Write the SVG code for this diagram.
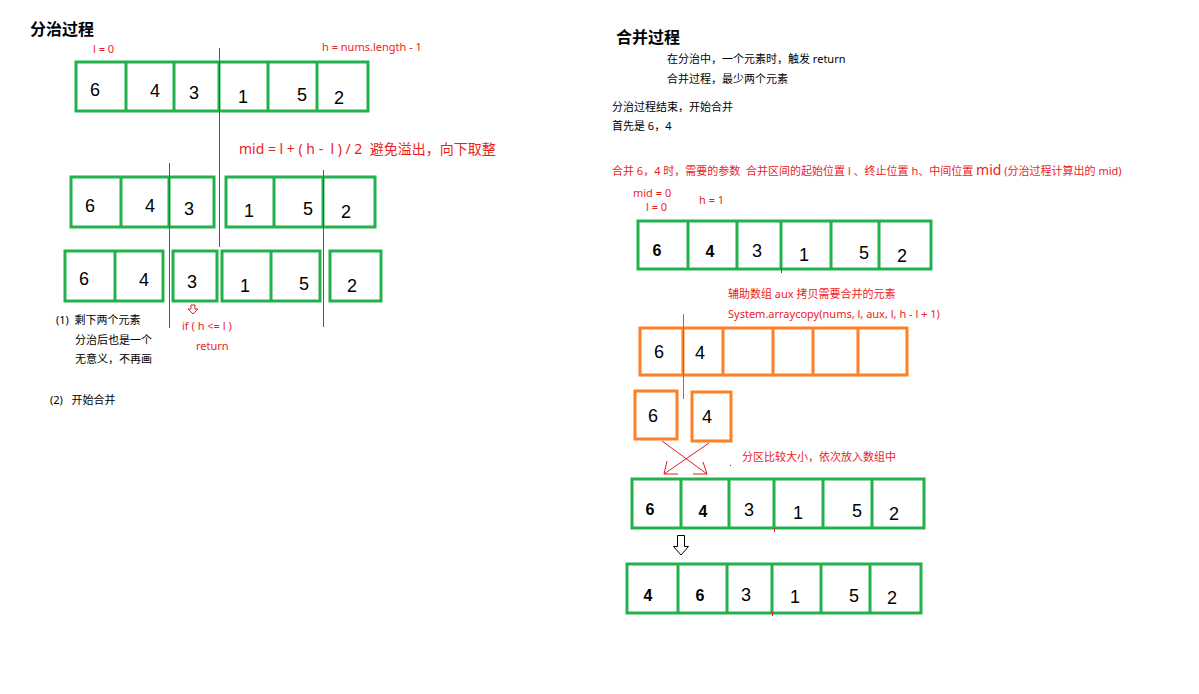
<svg xmlns="http://www.w3.org/2000/svg" width="1199" height="694" viewBox="0 0 1199 694">
<style>
text{font-family:"Noto Sans","Noto Sans CJK SC",sans-serif;white-space:pre;}
.t{font-size:11px;fill:#000;}
.r{font-size:11px;fill:#ed1c24;}
.r14{font-size:14px;fill:#ed1c24;}
.title{font-size:16px;font-weight:bold;fill:#000;font-family:"Noto Sans CJK SC",sans-serif;}
.g{fill:#fff;stroke:#22b14c;stroke-width:3;}
.o{fill:#fff;stroke:#ff7f27;stroke-width:3;}
.gl{stroke:#22b14c;stroke-width:3;fill:none;}
.ol{stroke:#ff7f27;stroke-width:3;fill:none;}
.n{font-size:18px;fill:#000;text-anchor:middle;font-family:"Liberation Sans",sans-serif;}
.nb{font-size:16px;font-weight:bold;fill:#000;text-anchor:middle;font-family:"Liberation Sans",sans-serif;}
.rl{stroke:#e01b24;stroke-width:1;fill:none;}
</style>
<rect width="1199" height="694" fill="#fff"/>

<!-- LEFT: 分治过程 -->
<g id="title-left"><text class="title" x="30" y="35">分治过程</text></g>
<g id="label-l0"><text class="r" x="93" y="53">l = 0</text></g>
<g id="label-h"><text class="r" x="322" y="51">h = nums.length - 1</text></g>

<g id="row1">
<rect class="g" x="76" y="62" width="292" height="49"/>
<path class="gl" d="M126 62V111M174 62V111M219 62V111M268 62V111M317 62V111"/>
<text class="n" x="95" y="96">6</text>
<text class="n" x="155" y="97">4</text>
<text class="n" x="194" y="99">3</text>
<text class="n" x="243" y="103">1</text>
<text class="n" x="302" y="101">5</text>
<text class="n" x="339" y="104">2</text>
</g>

<g id="label-mid"><text class="r14" x="239" y="154">mid = l + ( h -  l ) / 2  避免溢出，向下取整</text></g>

<g id="row2-left">
<rect class="g" x="71" y="177" width="143" height="50"/>
<path class="gl" d="M121 177V227M169 177V227"/>
<text class="n" x="90" y="212">6</text>
<text class="n" x="150" y="212">4</text>
<text class="n" x="189" y="215">3</text>
</g>
<g id="row2-right">
<rect class="g" x="226" y="177" width="149" height="50"/>
<path class="gl" d="M274 177V227M323 177V227"/>
<text class="n" x="249" y="217">1</text>
<text class="n" x="308" y="215">5</text>
<text class="n" x="346" y="218">2</text>
</g>

<g id="row3-a">
<rect class="g" x="65" y="251" width="98" height="50"/>
<path class="gl" d="M115 251V301"/>
<text class="n" x="84" y="285">6</text>
<text class="n" x="144" y="286">4</text>
</g>
<g id="row3-b">
<rect class="g" x="173" y="251" width="44" height="50"/>
<text class="n" x="192" y="288">3</text>
</g>
<g id="row3-c">
<rect class="g" x="222" y="251" width="98" height="50"/>
<path class="gl" d="M271 251V301"/>
<text class="n" x="245" y="292">1</text>
<text class="n" x="304" y="290">5</text>
</g>
<g id="row3-d">
<rect class="g" x="330" y="251" width="51" height="50"/>
<text class="n" x="352" y="292">2</text>
</g>

<g id="notes-left">
<text class="t" x="56" y="324">(1)  剩下两个元素</text>
<text class="t" x="75" y="344">分治后也是一个</text>
<text class="t" x="75" y="363">无意义，不再画</text>
<text class="t" x="50" y="404">(2)   开始合并</text>
<text class="r" x="182" y="330">if ( h &lt;= l )</text>
<text class="r" x="196" y="350">return</text>
</g>

<!-- RIGHT: 合并过程 -->
<g id="title-right"><text class="title" x="616" y="43">合并过程</text></g>
<g id="notes-right">
<text class="t" x="667" y="63">在分治中，一个元素时，触发 return</text>
<text class="t" x="667" y="83">合并过程，最少两个元素</text>
<text class="t" x="612" y="111">分治过程结束，开始合并</text>
<text class="t" x="612" y="130">首先是 6，4</text>
<text class="r" x="612" y="175">合并 6，4 时，需要的参数  合并区间的起始位置 l 、终止位置 h、中间位置 <tspan font-size="14">mid</tspan> (分治过程计算出的 mid)</text>
<text class="r" x="633" y="197">mid = 0</text>
<text class="r" x="646" y="211">l = 0</text>
<text class="r" x="699" y="204">h = 1</text>
<text class="r" x="728" y="298">辅助数组 aux 拷贝需要合并的元素</text>
<text class="r" x="728" y="318">System.arraycopy(nums, l, aux, l, h - l + 1)</text>
<text class="r" x="742" y="461">分区比较大小，依次放入数组中</text>
</g>

<g id="merge-row1">
<rect class="g" x="638" y="221" width="293" height="48"/>
<path class="gl" d="M688 221V269M737 221V269M781 221V269M831 221V269M879 221V269"/>
<text class="nb" x="657" y="256">6</text>
<text class="nb" x="710" y="257">4</text>
<text class="n" x="757" y="257">3</text>
<text class="n" x="804" y="261">1</text>
<text class="n" x="864" y="259">5</text>
<text class="n" x="902" y="262">2</text>
</g>

<g id="aux-row">
<rect class="o" x="640" y="328" width="267" height="47"/>
<path class="ol" d="M683 328V375M723 328V375M773 328V375M813 328V375M858 328V375"/>
<text class="n" x="659" y="358">6</text>
<text class="n" x="700" y="359">4</text>
</g>

<g id="aux-6">
<rect class="o" x="635" y="391" width="42" height="48"/>
<text class="n" x="653" y="422">6</text>
</g>
<g id="aux-4">
<rect class="o" x="692" y="392" width="39" height="49"/>
<text class="n" x="707" y="423">4</text>
</g>

<g id="merge-row2">
<rect class="g" x="632" y="479" width="292" height="49"/>
<path class="gl" d="M681 479V528M729 479V528M774 479V528M823 479V528M872 479V528"/>
<text class="nb" x="650" y="515">6</text>
<text class="nb" x="703" y="517">4</text>
<text class="n" x="749" y="516">3</text>
<text class="n" x="798" y="519">1</text>
<text class="n" x="857" y="517">5</text>
<text class="n" x="894" y="520">2</text>
</g>

<g id="merge-row3">
<rect class="g" x="627" y="564" width="294" height="49"/>
<path class="gl" d="M678 564V613M727 564V613M772 564V613M821 564V613M870 564V613"/>
<text class="nb" x="648" y="601">4</text>
<text class="nb" x="700" y="601">6</text>
<text class="n" x="746" y="601">3</text>
<text class="n" x="795" y="603">1</text>
<text class="n" x="854" y="602">5</text>
<text class="n" x="892" y="604">2</text>
</g>

<g id="connectors">
<path class="rl" d="M219.5 48V247"/>
<path class="rl" d="M169.5 163V328"/>
<path class="rl" d="M323.5 170V327"/>
<path d="M191 305h4v4h3l-5 5l-5-5h3z" fill="#fff" stroke="#ed1c24" stroke-width="1"/>
<path d="M683.5 314V399" stroke="#22b14c" stroke-width="1" fill="none"/>
<path class="rl" d="M662 441L707 474M703 462L707 474L693 474"/>
<path class="rl" d="M709 443L664 474M667 461L664 474L678 474"/>
<path class="rl" d="M730 465l1 1"/>
<path class="rl" d="M781.5 268V273M774.5 528V532M772.5 612V616"/>
<path d="M677.5 535.5h7v11h4l-7.5 8.5l-7.5-8.5h4z" fill="#fff" stroke="#000" stroke-width="1"/>
</g>
</svg>
